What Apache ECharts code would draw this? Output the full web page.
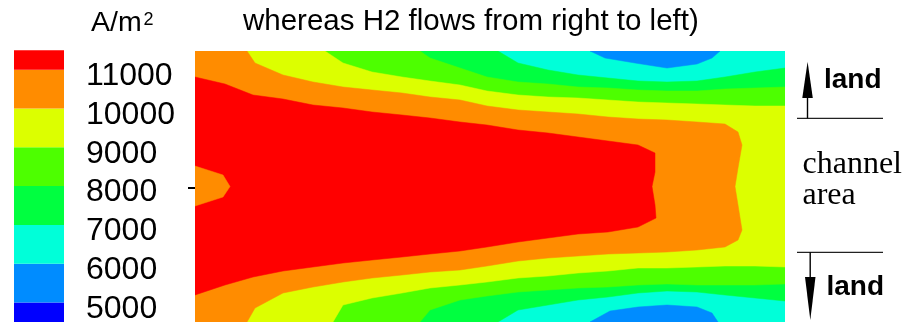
<!DOCTYPE html>
<html><head><meta charset="utf-8">
<script src="https://cdn.jsdelivr.net/npm/echarts@6/dist/echarts.min.js"></script>
<style>html,body{margin:0;padding:0;background:#fff}#c{width:912px;height:325px}</style>
</head><body><div id="c"></div>
<script>
// ---------- data (plot units: x along the channel 0..590, y across 0..271, 0 = top land) ----------
const domainX = [0, 590];
const domainY = [0, 271];

// colour bands (A/m2): <5000, 5000-6000, ..., >11000
const legendStops = [4500, 5000, 6000, 7000, 8000, 9000, 10000, 11000, 11500];
const legendTicks = [5000, 6000, 7000, 8000, 9000, 10000, 11000];
const bandColors = ['#0000ff', '#008cff', '#00ffd9', '#00ff40', '#4dff00', '#dcff00', '#ff8c00', '#ff0000'];

// iso-lines ([x, y])
const iso7000Upper = [[0,0],[303,0],[323,12],[353,19],[383,24],[413,27],[443,30],[472,31],[502,30],[530,26],[560,21],[590,17]];
const iso7000Lower = [[0,271],[303,271],[323,259],[353,254],[383,249],[413,246],[443,242],[472,240],[502,241],[530,244],[560,247],[590,250]];
const iso8000Upper = [[0,0],[225,0],[235,7],[265,17],[292,26],[323,31],[353,33],[383,36],[413,37],[443,39],[472,40],[502,40],[530,38],[560,37],[590,36]];
const iso8000Lower = [[0,271],[225,271],[235,259],[265,249],[292,245],[323,241],[353,239],[383,237],[413,236],[443,234],[472,233],[502,234],[530,234],[560,234],[590,233]];
const iso9000Upper = [[0,0],[130,0],[148,12],[177,21],[207,26],[235,30],[265,34],[292,40],[323,44],[353,46],[383,47],[413,49],[443,51],[472,52],[502,53],[530,54],[560,55],[590,55]];
const iso9000Lower = [[0,271],[138,271],[148,254],[177,247],[207,242],[235,237],[265,234],[292,231],[323,227],[353,225],[383,222],[413,220],[443,217],[472,217],[502,216],[530,215],[560,215],[590,216]];
const iso10000Upper = [[0,0],[52,0],[60,12],[88,24],[118,31],[148,36],[177,39],[207,42],[235,46],[265,49],[292,55],[323,59],[353,61],[383,63],[413,66],[443,68],[472,69],[502,71],[530,73],[543,81],[547,94],[543,117],[540,135.5]];
const iso10000Lower = [[0,271],[52,271],[60,257],[88,242],[118,236],[148,231],[177,227],[207,224],[235,221],[265,219],[292,215],[323,210],[353,207],[383,205],[413,203],[443,202],[472,201],[502,199],[530,196],[543,189],[547,179],[543,154],[540,135.5]];
const iso11000Upper = [[0,26],[30,33],[58,44],[88,48],[118,54],[148,57],[177,61],[207,64],[235,67],[265,71],[292,74],[323,79],[353,82],[383,86],[413,90],[443,94],[460,102],[460,121],[457,135.5]];
const iso11000Lower = [[0,244],[30,234],[58,226],[88,220],[118,216],[148,212],[177,209],[207,206],[235,203],[265,200],[292,196],[323,191],[353,187],[383,183],[413,181],[443,176],[461,167],[460,154],[457,135.5]];
const iso11000Inlet = [[0,115],[28,124],[35,135.5],[28,146],[0,155]];
const iso6000Upper = [[395,0],[410,7],[440,12],[472,17],[502,13],[517,7],[525,0]];
const iso6000Lower = [[395,271],[415,260],[443,256],[472,254],[502,256],[517,262],[523,271]];

// ---------- build regions ----------
function closed(upper, lower) { return upper.concat(lower.slice().reverse()); }
const fullDomain = [[domainX[0],domainY[0]],[domainX[1],domainY[0]],[domainX[1],domainY[1]],[domainX[0],domainY[1]]];
const regions = [
  { pts: fullDomain, band: 2 },
  { pts: closed(iso7000Upper, iso7000Lower), band: 3 },
  { pts: closed(iso8000Upper, iso8000Lower), band: 4 },
  { pts: closed(iso9000Upper, iso9000Lower), band: 5 },
  { pts: closed(iso10000Upper, iso10000Lower), band: 6 },
  { pts: closed(iso11000Upper, iso11000Lower.slice(0, -1)), band: 7 },
  { pts: iso11000Inlet, band: 6 },
  { pts: iso6000Upper, band: 1 },
  { pts: iso6000Lower, band: 1 }
];
const legendData = legendStops.slice(0, -1).map((v, i) => [v, legendStops[i + 1], i]);

const chart = echarts.init(document.getElementById('c'), null, { renderer: 'canvas' });
const SANS = '"Liberation Sans", Arial, sans-serif';
const SERIF = '"Liberation Serif", "Times New Roman", serif';

chart.setOption({
  animation: false,
  backgroundColor: '#ffffff',
  grid: [
    { left: 195, top: 51, width: 590, height: 271, containLabel: false },
    { left: 14, top: 50.3, width: 50, height: 276.2, containLabel: false }
  ],
  xAxis: [
    { gridIndex: 0, type: 'value', min: domainX[0], max: domainX[1], show: false },
    { gridIndex: 1, type: 'value', min: 0, max: 1, show: false }
  ],
  yAxis: [
    { gridIndex: 0, type: 'value', min: domainY[0], max: domainY[1], inverse: true, show: false },
    { gridIndex: 1, type: 'value', min: 4500, max: 11500, interval: 500, position: 'right',
      axisLine: { show: false }, axisTick: { show: false }, splitLine: { show: false },
      axisLabel: { margin: 22, fontSize: 32, fontFamily: SANS, color: '#000',
        verticalAlign: 'top', lineHeight: 13,
        formatter: v => legendTicks.indexOf(v) >= 0 ? String(v) : '' } }
  ],
  series: [
    {
      type: 'custom', xAxisIndex: 0, yAxisIndex: 0, clip: true,
      data: regions.map((r, i) => [r.pts[0][0], r.pts[0][1], i]),
      encode: { x: 0, y: 1 },
      renderItem: function (params, api) {
        const r = regions[api.value(2)];
        const pts = r.pts.map(p => api.coord(p));
        return { type: 'polygon', shape: { points: pts },
          style: { fill: bandColors[r.band], stroke: bandColors[r.band], lineWidth: 0.5 } };
      }
    },
    {
      type: 'custom', xAxisIndex: 1, yAxisIndex: 1,
      data: legendData,
      encode: { y: [0, 1] },
      renderItem: function (params, api) {
        const a = api.coord([0, api.value(0)]);
        const b = api.coord([1, api.value(1)]);
        return { type: 'rect', shape: { x: a[0], y: b[1], width: b[0] - a[0], height: a[1] - b[1] },
          style: { fill: bandColors[api.value(2)] } };
      }
    }
  ],
  graphic: [
    { type: 'text', x: 243, y: 21.5, style: { text: 'whereas H2 flows from right to left)', font: '29.5px ' + SANS, fill: '#000', align: 'left', verticalAlign: 'middle' } },
    { type: 'text', x: 91, y: 23.6, style: { text: 'A/m', font: '28.5px ' + SANS, fill: '#000', align: 'left', verticalAlign: 'middle' } },
    { type: 'text', x: 143.5, y: 19.8, style: { text: '2', font: '18px ' + SANS, fill: '#000', align: 'left', verticalAlign: 'middle' } },
    { type: 'line', shape: { x1: 188, y1: 188, x2: 195, y2: 188 }, style: { stroke: '#000', lineWidth: 2 } },
    { type: 'line', shape: { x1: 797, y1: 118.3, x2: 883, y2: 118.3 }, style: { stroke: '#222', lineWidth: 1.3 } },
    { type: 'line', shape: { x1: 797, y1: 252.3, x2: 883, y2: 252.3 }, style: { stroke: '#222', lineWidth: 1.3 } },
    { type: 'line', shape: { x1: 807.5, y1: 118.3, x2: 807.5, y2: 95 }, style: { stroke: '#000', lineWidth: 1.4 } },
    { type: 'polygon', shape: { points: [[807.6, 61.7], [802.3, 98], [812.8, 98]] }, style: { fill: '#000' } },
    { type: 'line', shape: { x1: 810.2, y1: 252.3, x2: 810.2, y2: 280 }, style: { stroke: '#000', lineWidth: 1.4 } },
    { type: 'polygon', shape: { points: [[805, 277], [815.5, 277], [810.3, 320]] }, style: { fill: '#000' } },
    { type: 'text', x: 824, y: 80.3, style: { text: 'land', font: 'bold 28px ' + SANS, fill: '#000', align: 'left', verticalAlign: 'middle' } },
    { type: 'text', x: 826.5, y: 287, style: { text: 'land', font: 'bold 28px ' + SANS, fill: '#000', align: 'left', verticalAlign: 'middle' } },
    { type: 'text', x: 802.5, y: 164.2, style: { text: 'channel', font: '32px ' + SERIF, fill: '#000', align: 'left', verticalAlign: 'middle' } },
    { type: 'text', x: 802.5, y: 196, style: { text: 'area', font: '32px ' + SERIF, fill: '#000', align: 'left', verticalAlign: 'middle' } }
  ]
});
</script>
</body></html>
